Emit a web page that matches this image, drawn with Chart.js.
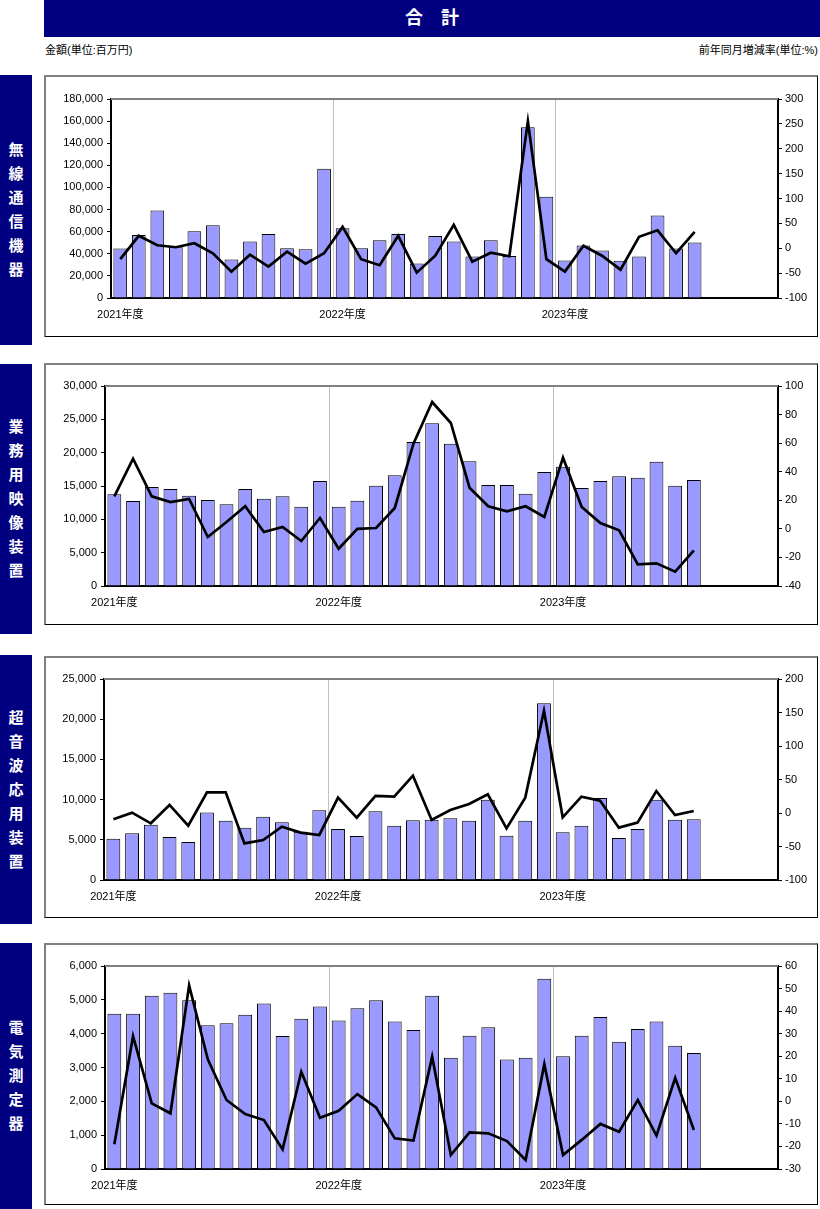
<!DOCTYPE html>
<html>
<head>
<meta charset="utf-8">
<script src="https://cdn.jsdelivr.net/npm/chart.js@4.4.0/dist/chart.umd.min.js"></script>
<style>
  body { margin:0; background:#fff; font-family: Arial, "Liberation Sans", "Noto Sans CJK JP", sans-serif; }
  .abs { position:absolute; }
  .banner { left:44px; top:0; width:776px; height:37px; background:#000080; color:#fff;
            font-weight:bold; font-size:18px; line-height:37px; text-align:center; }
  .note { top:41px; font-size:11px; color:#000; }
  .side { left:0; width:32px; background:#000080; color:#fff; font-weight:bold; font-size:15px;
          display:flex; align-items:center; justify-content:center; text-align:center; line-height:24px; }
  .box { left:44px; width:774px; height:262px; box-sizing:border-box;
         border-top:2px solid #808080; border-left:2px solid #808080;
         border-bottom:1px solid #000; border-right:1px solid #000; }
</style>
</head>
<body>
<div class="abs banner">合　計</div>
<div class="abs note" style="left:45px">金額(単位:百万円)</div>
<div class="abs note" style="right:2px">前年同月増減率(単位:%)</div>

<div class="abs side" style="top:75px;height:270px">無<br>線<br>通<br>信<br>機<br>器</div>
<div class="abs side" style="top:364px;height:270px">業<br>務<br>用<br>映<br>像<br>装<br>置</div>
<div class="abs side" style="top:655px;height:269px">超<br>音<br>波<br>応<br>用<br>装<br>置</div>
<div class="abs side" style="top:943px;height:266px">電<br>気<br>測<br>定<br>器</div>

<div class="abs box" style="top:75px"></div>
<div class="abs box" style="top:363px"></div>
<div class="abs box" style="top:656px"></div>
<div class="abs box" style="top:943px"></div>

<canvas id="c1" class="abs" width="774" height="262" style="left:44px;top:75px"></canvas>
<canvas id="c2" class="abs" width="774" height="262" style="left:44px;top:363px"></canvas>
<canvas id="c3" class="abs" width="774" height="262" style="left:44px;top:656px"></canvas>
<canvas id="c4" class="abs" width="774" height="262" style="left:44px;top:943px"></canvas>

<script>
// months Apr 2021 .. Mar 2024 (fiscal years)
const months = [];
for (let y = 2021; y <= 2023; y++) {
  for (let m = 0; m < 12; m++) {
    const mm = m + 4 > 12 ? m - 8 : m + 4;
    months.push((mm < 4 ? y + 1 : y) + "/" + mm);
  }
}
const yearTicks = ["2021年度", "2022年度", "2023年度"];

// 無線通信機器
const musenAmount = [44700, 57000, 79200, 46500, 60300, 65700, 34800, 51000, 57900, 45000, 44100, 117000,
  63000, 45000, 52200, 57900, 31200, 56100, 51000, 37500, 52200, 38100, 154500, 91500,
  33900, 47400, 42900, 33600, 37500, 74700, 44700, 50100];
const musenRate = [-22, 25, 6, 2, 10, -10, -47, -13, -37, -7, -31, -10,
  43, -22, -34, 25, -49, -15, 47, -27, -9, -16, 255, -22,
  -47, 5, -15, -43, 23, 36, -10, 33];

// 業務用映像装置
const eizoAmount = [13750, 12750, 14850, 14550, 13550, 12900, 12250, 14550, 13100, 13450, 11900, 15750,
  11900, 12800, 15050, 16600, 21600, 24400, 21350, 18700, 15150, 15150, 13850, 17100,
  17900, 14700, 15750, 16450, 16250, 18650, 15050, 15900];
const eizoRate = [22.8, 49.1, 22.8, 18.8, 20.9, -5.7, 4.8, 15.8, -2.2, 1.3, -8.5, 7.6,
  -13.9, 0, 0.6, 14.6, 59.6, 88.8, 74.1, 28.8, 15.8, 12.3, 15.8, 8.3,
  49.8, 15.3, 4.1, -1, -24.8, -24.1, -30, -15];

// 超音波応用装置
const onpaAmount = [5140, 5800, 6880, 5350, 4730, 8380, 7380, 6510, 7880, 7170, 6010, 8670,
  6340, 5470, 8540, 6760, 7420, 7500, 7670, 7380, 9990, 5510, 7380, 21970,
  5930, 6760, 10200, 5220, 6340, 9990, 7500, 7550];
const onpaRate = [-9.4, 0.5, -15.4, 12, -18.9, 30.8, 30.8, -45.3, -40.3, -20.4, -29.3, -32.8,
  22.9, -7, 25.4, 24.4, 55.7, -10.4, 4.5, 13.4, 27.9, -22.9, 22.9, 152.7,
  -6.5, 24.4, 18.4, -21.9, -14.4, 32.8, -3, 3];

// 電気測定器
const denkiAmount = [4590, 4590, 5120, 5210, 4990, 4250, 4310, 4560, 4890, 3930, 4440, 4800,
  4390, 4750, 4990, 4360, 4110, 5120, 3290, 3940, 4190, 3240, 3290, 5620,
  3330, 3940, 4490, 3760, 4140, 4360, 3640, 3430];
const denkiRate = [-19, 28.9, -0.9, -5.3, 51.4, 18.6, 0.6, -5.6, -8.3, -21.3, 13.1, -7.3,
  -4.2, 3.2, -2.7, -16.4, -17.4, 19.8, -23.8, -13.8, -14.2, -17.6, -26, 16.5,
  -23.8, -17.1, -10, -13.5, 0.6, -15.2, 10.4, -12.7];

const tickFont = { family: 'Arial, "Liberation Sans", "Noto Sans CJK JP"', size: 11 };

const topLine = {
  id: "topLine",
  afterDraw(chart) {
    const a = chart.chartArea, ctx = chart.ctx;
    ctx.save();
    ctx.strokeStyle = "#808080";
    ctx.lineWidth = 2;
    ctx.beginPath();
    ctx.moveTo(a.left, a.top);
    ctx.lineTo(a.right, a.top);
    ctx.stroke();
    ctx.restore();
  }
};

function makeChart(id, amount, rate, opt) {
  new Chart(document.getElementById(id), {
    data: {
      labels: months,
      datasets: [
        {
          type: "line",
          data: rate,
          yAxisID: "y2",
          borderColor: "#000",
          borderWidth: 2.7,
          pointRadius: 0,
          tension: 0,
          order: 0
        },
        {
          type: "bar",
          data: amount,
          yAxisID: "y",
          backgroundColor: "#9999ff",
          borderColor: "#000",
          borderWidth: 1,
          barPercentage: 0.74,
          categoryPercentage: 1,
          order: 1
        }
      ]
    },
    options: {
      responsive: false,
      animation: false,
      layout: { padding: { top: opt.top, left: 0, right: 0, bottom: 0 } },
      plugins: { legend: { display: false }, tooltip: { enabled: false } },
      scales: {
        x: {
          offset: true,
          grid: {
            offset: true,
            drawTicks: false,
            color: c => (c.index === 12 || c.index === 24) ? "#c0c0c0" : "rgba(0,0,0,0)"
          },
          border: { color: "#000", width: 2 },
          ticks: {
            autoSkip: false,
            maxRotation: 0,
            padding: 10,
            color: "#000",
            font: tickFont,
            callback: (v, i) => i % 12 === 0 ? yearTicks[i / 12] : ""
          },
          afterFit: s => { s.height = opt.bottom; }
        },
        y: {
          position: "left",
          min: 0, max: opt.max,
          grid: { drawOnChartArea: false, tickLength: 4, color: "#000" },
          border: { color: "#000", width: 2 },
          ticks: { stepSize: opt.step, color: "#000", font: tickFont, padding: 4,
                   callback: v => v.toLocaleString("en-US") },
          afterFit: s => { s.width = opt.left; }
        },
        y2: {
          position: "right",
          min: opt.rmin, max: opt.rmax,
          grid: { drawOnChartArea: false, tickLength: 4, color: "#000" },
          border: { color: "#000", width: 2 },
          ticks: { stepSize: opt.rstep, color: "#000", font: tickFont, padding: 3 },
          afterFit: s => { s.width = 40; }
        }
      }
    },
    plugins: [topLine]
  });
}

makeChart("c1", musenAmount, musenRate, { top: 24, bottom: 39, left: 67, max: 180000, step: 20000, rmin: -100, rmax: 300, rstep: 50 });
makeChart("c2", eizoAmount, eizoRate, { top: 23, bottom: 39, left: 61, max: 30000, step: 5000, rmin: -40, rmax: 100, rstep: 20 });
makeChart("c3", onpaAmount, onpaRate, { top: 23, bottom: 38, left: 60, max: 25000, step: 5000, rmin: -100, rmax: 200, rstep: 50 });
makeChart("c4", denkiAmount, denkiRate, { top: 23, bottom: 36, left: 61, max: 6000, step: 1000, rmin: -30, rmax: 60, rstep: 10 });
</script>
</body>
</html>
